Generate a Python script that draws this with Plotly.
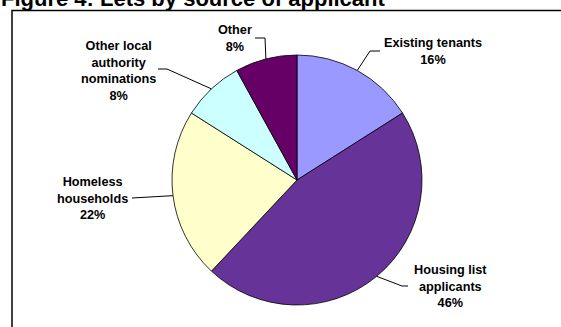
import math
import plotly.graph_objects as go

# ---- data ----
categories = ["Existing tenants", "Housing list applicants", "Homeless households",
              "Other local authority nominations", "Other"]
label_text = ["Existing tenants", "Housing list<br>applicants", "Homeless<br>households",
              "Other local<br>authority<br>nominations", "Other"]
values = [16, 46, 22, 8, 8]
colors = ["#9999FF", "#663399", "#FFFFCC", "#CCFFFF", "#660066"]

# ---- layout (pixels) ----
W, H = 561, 327
CX, CY, R = 297, 180, 125
# label centre, elbow point, end point of leader line
label_pos = [(433, 52), (450, 286), (92, 198), (118, 70.5), (235, 39)]
elbows = [(370, 51), (402, 286), (132, 198), (167, 69), (265, 38)]
ends = [(380, 51), (408, 286), (132, 198), (158, 69), (255, 38)]

def px(x):
    return x / W

def py(y):
    return 1 - y / H

fig = go.Figure(go.Pie(
    labels=categories, values=values, sort=False, direction="clockwise", rotation=0,
    marker=dict(colors=colors, line=dict(color="#000000", width=0.8)),
    textinfo="none", hoverinfo="label+percent", showlegend=False,
    domain=dict(x=[px(CX - R), px(CX + R)], y=[py(CY + R), py(CY - R)]),
))

total = sum(values)
pcts = [round(100 * v / total) for v in values]
shapes = []
annotations = []
cum = 0
for i, v in enumerate(values):
    mid = (cum + v / 2) / total * 2 * math.pi
    cum += v
    sx = CX + R * math.sin(mid)
    sy = CY - R * math.cos(mid)
    ex, ey = elbows[i]
    tx, ty = ends[i]
    path = f"M {px(sx)} {py(sy)} L {px(ex)} {py(ey)} L {px(tx)} {py(ty)}"
    shapes.append(dict(type="path", xref="paper", yref="paper", path=path,
                       line=dict(color="#000000", width=1)))
    lx, ly = label_pos[i]
    annotations.append(dict(
        x=px(lx), y=py(ly), xref="paper", yref="paper", showarrow=False,
        xanchor="center", yanchor="middle", align="center",
        text=f"<b>{label_text[i]}<br>{pcts[i]}%</b>",
        font=dict(family="Liberation Sans, Arial, sans-serif", size=12.7, color="#000000"),
    ))

# frame around chart
shapes.append(dict(type="rect", xref="paper", yref="paper",
                   x0=px(12), x1=px(575), y0=py(345), y1=py(10.5),
                   line=dict(color="#000000", width=1.5)))

# title
annotations.append(dict(
    x=px(-1), y=py(13), xref="paper", yref="paper", showarrow=False,
    xanchor="left", yanchor="bottom",
    text="<b>Figure 4: Lets by source of applicant</b>",
    font=dict(family="Liberation Sans, Arial, sans-serif", size=22, color="#000000"),
))

fig.update_layout(
    width=W, height=H, margin=dict(l=0, r=0, t=0, b=0),
    paper_bgcolor="#FFFFFF", plot_bgcolor="#FFFFFF",
    shapes=shapes, annotations=annotations,
)

fig.write_html("out.html")
